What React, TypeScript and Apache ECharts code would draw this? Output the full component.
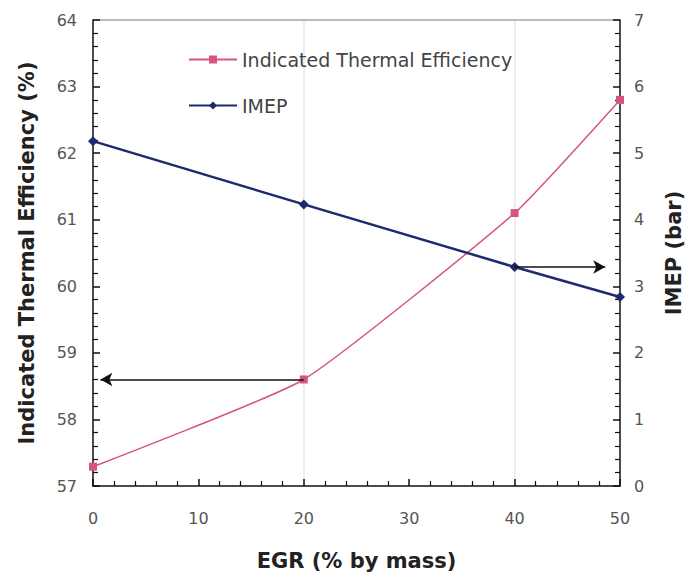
import React, { useEffect, useRef } from "react";
import * as echarts from "echarts";

const egr = [0, 20, 40, 50];
const thermalEff = [57.29, 58.6, 61.1, 62.8];
const imep = [5.18, 4.23, 3.29, 2.84];
const gridX = [20, 40];
const leftArrow = { from: [20, 58.6], to: [0.7, 58.6] };
const rightArrow = { from: [40, 3.29], to: [48.6, 3.29] };

export default function App() {
  const ref = useRef<HTMLDivElement>(null);
  useEffect(() => {
    const chart = echarts.init(ref.current!, null, { renderer: "svg" });
    const font = "DejaVu Sans";
    const tickLabel = { color: "#555", fontSize: 16, fontFamily: font };
    const nameStyle = { color: "#222", fontSize: 21, fontWeight: "bold" as const, fontFamily: font };
    const tick = { show: true, inside: true, length: 7, lineStyle: { color: "#111", width: 1.5 } };
    const minor = { show: true, splitNumber: 5, length: 5, lineStyle: { color: "#111", width: 1.2 } };
    const arrowStyle = { color: "#111", width: 1.5, type: "solid" as const };
    chart.setOption({
      animation: false,
      backgroundColor: "#fff",
      grid: { left: 93, right: 64, top: 20, bottom: 94 },
      legend: {
        orient: "vertical",
        left: 183,
        top: 45,
        itemGap: 27,
        itemWidth: 48,
        itemHeight: 10,
        textStyle: { color: "#444", fontSize: 19, fontFamily: font },
        data: ["Indicated Thermal Efficiency", "IMEP"],
      },
      xAxis: {
        type: "value",
        min: 0,
        max: 50,
        interval: 10,
        name: "EGR (% by mass)",
        nameLocation: "middle",
        nameGap: 64,
        nameTextStyle: nameStyle,
        axisLine: { lineStyle: { color: "#111", width: 1.5 } },
        axisTick: tick,
        minorTick: minor,
        axisLabel: { ...tickLabel, margin: 24 },
        splitLine: { show: false },
      },
      yAxis: [
        {
          type: "value",
          min: 57,
          max: 64,
          interval: 1,
          name: "Indicated Thermal Efficiency (%)",
          nameLocation: "middle",
          nameGap: 56,
          nameTextStyle: nameStyle,
          axisLine: { show: true, lineStyle: { color: "#111", width: 1.5 } },
          axisTick: tick,
          minorTick: minor,
          axisLabel: { ...tickLabel, margin: 16 },
          splitLine: { show: false },
        },
        {
          type: "value",
          min: 0,
          max: 7,
          interval: 1,
          name: "IMEP (bar)",
          nameLocation: "middle",
          nameGap: 43,
          nameRotate: 90,
          nameTextStyle: nameStyle,
          axisLine: { show: true, lineStyle: { color: "#111", width: 1.5 } },
          axisTick: tick,
          minorTick: minor,
          axisLabel: { ...tickLabel, margin: 14 },
          splitLine: { show: false },
        },
      ],
      series: [
        {
          name: "Indicated Thermal Efficiency",
          type: "line",
          yAxisIndex: 0,
          data: egr.map((x, i) => [x, thermalEff[i]]),
          smooth: 0.15,
          symbol: "rect",
          symbolSize: 8,
          itemStyle: { color: "#d6557f" },
          lineStyle: { color: "#d6557f", width: 1.5 },
          markLine: {
            silent: true,
            symbol: ["none", "none"],
            label: { show: false },
            z: 0,
            data: [
              ...gridX.map((x) => ({ xAxis: x, lineStyle: { color: "#eeeeee", width: 2, type: "solid" as const } })),
              { yAxis: 64, lineStyle: { color: "#bbbbbb", width: 2, type: "solid" as const } },
            ],
          },
        },
        {
          name: "Arrow left",
          type: "line",
          yAxisIndex: 0,
          data: [],
          markLine: {
            silent: true,
            symbol: ["none", "arrow"],
            symbolSize: [10, 12],
            label: { show: false },
            lineStyle: arrowStyle,
            data: [[{ coord: leftArrow.from }, { coord: leftArrow.to }]],
          },
        },
        {
          name: "IMEP",
          type: "line",
          yAxisIndex: 1,
          data: egr.map((x, i) => [x, imep[i]]),
          symbol: "diamond",
          symbolSize: 10,
          itemStyle: { color: "#1e2a6e" },
          lineStyle: { color: "#1e2a6e", width: 2.5 },
          markLine: {
            silent: true,
            symbol: ["none", "arrow"],
            symbolSize: [10, 12],
            label: { show: false },
            lineStyle: arrowStyle,
            data: [[{ coord: rightArrow.from }, { coord: rightArrow.to }]],
          },
        },
      ],
    });
    return () => chart.dispose();
  }, []);
  return <div ref={ref} style={{ width: 692, height: 580, position: "absolute", left: 0, top: 0 }} />;
}
